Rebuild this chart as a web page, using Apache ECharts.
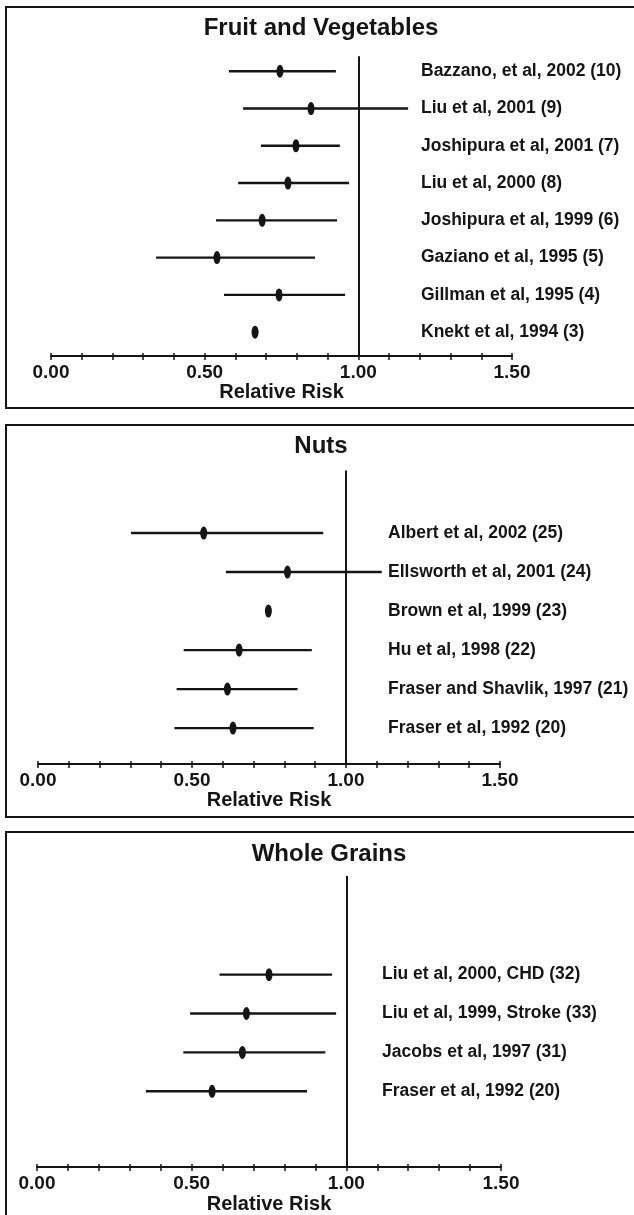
<!DOCTYPE html>
<html>
<head>
<meta charset="utf-8">
<title>Relative Risk</title>
<script src="https://cdn.jsdelivr.net/npm/echarts@6/dist/echarts.min.js"></script>
<style>
  html, body { margin: 0; padding: 0; background: #fff; }
  #chart { width: 634px; height: 1215px; }
</style>
</head>
<body>
<div id="chart"></div>
<script>
// Fruit and Vegetables
const fvNames = ["Bazzano, et al, 2002 (10)", "Liu et al, 2001 (9)", "Joshipura et al, 2001 (7)", "Liu et al, 2000 (8)",
  "Joshipura et al, 1999 (6)", "Gaziano et al, 1995 (5)", "Gillman et al, 1995 (4)", "Knekt et al, 1994 (3)"];
const fvRR = [0.745, 0.846, 0.797, 0.771, 0.687, 0.540, 0.742, 0.664];
const fvLow = [0.579, 0.625, 0.683, 0.609, 0.537, 0.342, 0.563, null];
const fvHigh = [0.927, 1.162, 0.940, 0.970, 0.931, 0.859, 0.957, null];

// Nuts
const nutsNames = ["Albert et al, 2002 (25)", "Ellsworth et al, 2001 (24)", "Brown et al, 1999 (23)", "Hu et al, 1998 (22)",
  "Fraser and Shavlik, 1997 (21)", "Fraser et al, 1992 (20)"];
const nutsRR = [0.538, 0.810, 0.748, 0.653, 0.615, 0.633];
const nutsLow = [0.302, 0.610, null, 0.473, 0.450, 0.443];
const nutsHigh = [0.926, 1.116, null, 0.889, 0.843, 0.895];

// Whole Grains
const grainNames = ["Liu et al, 2000, CHD (32)", "Liu et al, 1999, Stroke (33)", "Jacobs et al, 1997 (31)", "Fraser et al, 1992 (20)"];
const grainRR = [0.750, 0.677, 0.664, 0.566];
const grainLow = [0.590, 0.495, 0.473, 0.352];
const grainHigh = [0.954, 0.967, 0.932, 0.873];

// axis ticks
const xMin = 0;
const xMax = 1.5;
const xStep = 0.1;

const FONT = "Liberation Sans, Arial, sans-serif";
const INK = "#151515";

// layout of the three boxes
const panels = [
  { title: "Fruit and Vegetables", names: fvNames, rr: fvRR, low: fvLow, high: fvHigh,
    grid: { left: 51, right: 122, top: 34, height: 322 }, yMax: 8.64, firstRow: 1, lineStart: 0.6,
    labelOffset: -91, titleX: 321, titleY: 16, box: [6, 7, 700, 401] },
  { title: "Nuts", names: nutsNames, rr: nutsRR, low: nutsLow, high: nutsHigh,
    grid: { left: 38, right: 134, top: 455, height: 309 }, yMax: 7.92, firstRow: 2, lineStart: 0.4,
    labelOffset: -112, titleX: 321, titleY: 434, box: [6, 425, 700, 392] },
  { title: "Whole Grains", names: grainNames, rr: grainRR, low: grainLow, high: grainHigh,
    grid: { left: 37, right: 133, top: 858, height: 310 }, yMax: 7.95, firstRow: 3, lineStart: 0.46,
    labelOffset: -119, titleX: 329, titleY: 842, box: [6, 832, 700, 500] },
];

const ellipse = "path://M0,10 A10,10 0 1,1 20,10 A10,10 0 1,1 0,10 Z";

function tickLabel(v) {
  return Math.abs(v * 2 - Math.round(v * 2)) < 1e-6 ? v.toFixed(2) : "";
}

const option = {
  backgroundColor: "#fff",
  animation: false,
  title: [],
  grid: [],
  xAxis: [],
  yAxis: [],
  series: [],
  graphic: [],
};

panels.forEach((p, k) => {
  option.title.push({
    text: p.title,
    left: p.titleX,
    top: p.titleY,
    textAlign: "center",
    padding: 0,
    textStyle: { fontFamily: FONT, fontWeight: "bold", fontSize: 24, color: INK },
  });
  option.grid.push(p.grid);

  // main axis with ticks below the line
  option.xAxis.push({
    type: "value", gridIndex: k, position: "bottom", min: xMin, max: xMax, interval: xStep,
    name: "Relative Risk", nameLocation: "middle", nameGap: 26,
    nameTextStyle: { fontFamily: FONT, fontWeight: "bold", fontSize: 20, color: INK },
    axisLine: { onZero: false, lineStyle: { color: INK, width: 2 } },
    axisTick: { length: 4, lineStyle: { color: INK, width: 1.5 } },
    axisLabel: { margin: 7, formatter: tickLabel, fontFamily: FONT, fontWeight: "bold", fontSize: 19, color: INK },
    splitLine: { show: false },
  });
  // same scale again, ticks above the line
  option.xAxis.push({
    type: "value", gridIndex: k, position: "bottom", min: xMin, max: xMax, interval: xStep,
    axisLine: { show: false, onZero: false },
    axisTick: { inside: true, length: 3, lineStyle: { color: INK, width: 1.5 } },
    axisLabel: { show: false },
    splitLine: { show: false },
  });

  option.yAxis.push({
    type: "value", gridIndex: k, position: "right", offset: p.labelOffset,
    inverse: true, min: 0, max: p.yMax, interval: 1,
    axisLine: { show: false, onZero: false }, axisTick: { show: false }, splitLine: { show: false },
    axisLabel: {
      margin: 0, fontFamily: FONT, fontWeight: "bold", fontSize: 17.5, color: INK,
      formatter: (v) => {
        const i = v - p.firstRow;
        return Number.isInteger(i) && p.names[i] ? p.names[i] : "";
      },
    },
  });

  const ciData = [];
  const ptData = [];
  p.names.forEach((n, i) => {
    const row = p.firstRow + i;
    if (p.low[i] != null) ciData.push([p.low[i], p.high[i], row]);
    ptData.push([p.rr[i], row]);
  });

  option.series.push({
    type: "custom",
    xAxisIndex: k * 2, yAxisIndex: k,
    encode: { x: [0, 1], y: 2 },
    data: ciData,
    renderItem: (params, api) => {
      const a = api.coord([api.value(0), api.value(2)]);
      const b = api.coord([api.value(1), api.value(2)]);
      return { type: "line", shape: { x1: a[0], y1: a[1], x2: b[0], y2: b[1] }, style: { stroke: INK, lineWidth: 2.4 } };
    },
    markLine: {
      silent: true, symbol: ["none", "none"], label: { show: false },
      lineStyle: { color: INK, width: 2, type: "solid" },
      data: [[{ coord: [1, p.lineStart] }, { coord: [1, p.yMax] }]],
    },
  });
  option.series.push({
    type: "scatter",
    xAxisIndex: k * 2, yAxisIndex: k,
    symbol: ellipse, symbolSize: [7, 13],
    itemStyle: { color: INK, opacity: 1 },
    data: ptData,
  });

  option.graphic.push({
    type: "rect", silent: true,
    shape: { x: p.box[0], y: p.box[1], width: p.box[2], height: p.box[3] },
    style: { fill: "none", stroke: INK, lineWidth: 2 },
  });
});

const chart = echarts.init(document.getElementById("chart"), null, { renderer: "canvas" });
chart.setOption(option);
</script>
</body>
</html>
